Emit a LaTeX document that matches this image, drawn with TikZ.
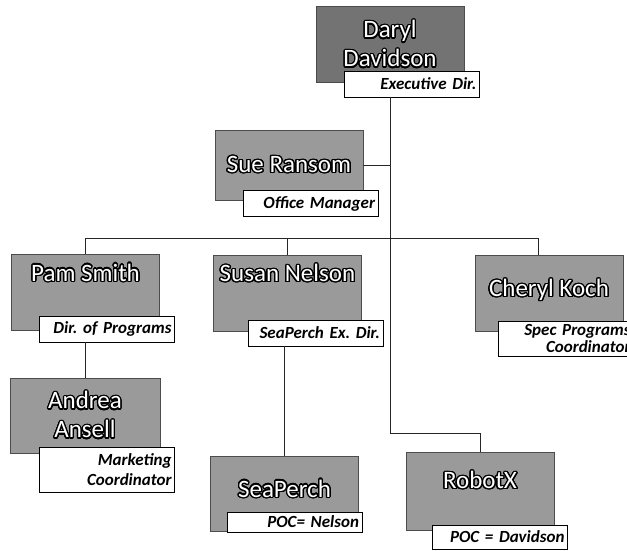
\documentclass[tikz,border=0pt]{standalone}
\usepackage{fontspec}
\setmainfont{Carlito}
\usepackage[copies]{contour}
\contourlength{1.3pt}
\contournumber{24}
\definecolor{boxgray}{HTML}{9A9A9A}
\definecolor{topgray}{HTML}{737373}
\newcommand{\nm}[1]{\contour{black}{#1}}
\frenchspacing

\tikzset{
  person/.style={draw=black!70, fill=boxgray, minimum width=148pt, minimum height=76pt,
     inner sep=0pt, align=center, text=white, font=\fontsize{25}{29}\selectfont},
  role/.style={draw=black, line width=0.8pt, fill=white, minimum height=26pt,
     text width=129pt, inner xsep=3pt, inner ysep=2pt, align=right,
     font=\fontsize{17}{20}\selectfont\bfseries\itshape},
  lifted/.style={text depth=#1},
  link/.style={draw=black!85, line width=0.9pt},
}

\begin{document}
\begin{tikzpicture}[x=1pt,y=-1pt]
  \useasboundingbox (0,0) rectangle (627,550);
  % boxes with names
  \node[person, fill=topgray] (daryl) at (390,44.5) {\nm{Daryl}\\\nm{Davidson}};
  \node[person, minimum height=70pt] (sue) at (289,165) {\nm{Sue Ransom}};
  \node[person, lifted=40pt] (pam) at (85.5,292.5) {\nm{Pam Smith}};
  \node[person, lifted=40pt] (susan) at (287.5,293) {\nm{Susan Nelson}};
  \node[person, lifted=10pt] (cheryl) at (549,293) {\nm{Cheryl Koch}};
  \node[person, minimum width=150pt, minimum height=75pt] (andrea) at (85,415.5) {\nm{Andrea}\\\nm{Ansell}};
  \node[person, minimum height=75pt, lifted=10pt] (seaperch) at (284.5,493.5) {\nm{SeaPerch}};
  \node[person, minimum height=78pt, lifted=22pt] (robotx) at (480,491) {\nm{RobotX}};
  % titles
  \node[role] (darylrole) at (412,84) {Executive Dir.};
  \node[role] (suerole) at (310.5,203.5) {Office Manager};
  \node[role] (pamrole) at (107,329) {Dir. of Programs};
  \node[role] (susanrole) at (315.5,333) {SeaPerch Ex. Dir.};
  \node[role, minimum height=35pt, font=\fontsize{17}{17}\selectfont\bfseries\itshape] (cherylrole) at (566,338.5) {Spec Programs\\Coordinator};
  \node[role, minimum height=45pt] (andrearole) at (107,469.5) {Marketing\\Coordinator};
  \node[role, minimum height=20pt, inner ysep=1pt] (seaperchrole) at (294.5,522) {POC= Nelson};
  \node[role, minimum height=24pt] (robotxrole) at (500,537) {POC = Davidson};
  % connectors
  \coordinate (bus) at (0,238);
  \coordinate (bend) at (0,433);
  \coordinate (cherylin) at ([xshift=-11pt]cheryl.north);
  \draw[link] (daryl |- darylrole.south) -- (daryl |- bend) -| (robotx.north);
  \draw[link] (sue.east) -- (sue.east -| daryl);
  \draw[link] (pam.north) -- (pam |- bus) -- (cherylin |- bus) -- (cherylin);
  \draw[link] (susan.north) -- (susan |- bus);
  \draw[link] (andrea.north) -- (andrea |- pamrole.south);
  \draw[link] (seaperch.north) -- (seaperch |- susanrole.south);
\end{tikzpicture}
\end{document}
